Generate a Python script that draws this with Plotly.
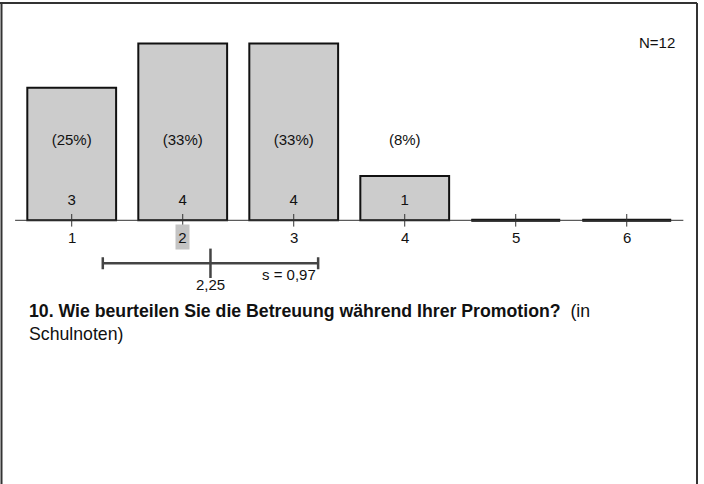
import plotly.graph_objects as go

# school grades 1..6 and how many respondents gave each
grades = [1, 2, 3, 4, 5, 6]
counts = [3, 4, 4, 1, 0, 0]
pct_labels = ["(25%)", "(33%)", "(33%)", "(8%)", "", ""]
n_total = 12
mean_val = 2.25
sd_val = 0.97
highlight_grade = 2
title_main = "10. Wie beurteilen Sie die Betreuung während Ihrer Promotion?"
title_note = "(in<br>Schulnoten)"

FONT = "Liberation Sans, Arial, sans-serif"
BAR_W = 0.8
X_RANGE = [0.354, 6.696]
Y_RANGE = [-5.966, 4.984]
COUNT_Y = 0.437
PCT_Y = 1.794
TICKLABEL_Y = -0.40
SD_Y = -0.973

fig = go.Figure()

# bars with responses
fig.add_trace(go.Bar(
    x=grades, y=counts, width=BAR_W,
    marker=dict(color="#cccccc", line=dict(color="#111111", width=2)),
    hoverinfo="skip",
))

# empty categories are drawn as a flat thick line on the baseline
zx, zy = [], []
for g, c in zip(grades, counts):
    if c == 0:
        zx += [g - BAR_W / 2, g + BAR_W / 2, None]
        zy += [0, 0, None]
fig.add_trace(go.Scatter(x=zx, y=zy, mode="lines",
                         line=dict(color="#111111", width=3), hoverinfo="skip"))

# baseline
fig.add_shape(type="line", x0=0.49, x1=6.51, y0=0, y1=0,
              line=dict(color="#333333", width=1))

# tick marks crossing the baseline
fig.add_trace(go.Scatter(
    x=grades, y=[0] * len(grades), mode="markers",
    marker=dict(symbol="line-ns", size=9, color="#333333",
                line=dict(color="#333333", width=1)),
    hoverinfo="skip",
))

# count and percent labels
nz = [i for i, c in enumerate(counts) if c > 0]
fig.add_trace(go.Scatter(
    x=[grades[i] for i in nz], y=[COUNT_Y] * len(nz), mode="text",
    text=[str(counts[i]) for i in nz],
    textfont=dict(family=FONT, size=15, color="#111111"), hoverinfo="skip",
))
fig.add_trace(go.Scatter(
    x=[grades[i] for i in nz], y=[PCT_Y] * len(nz), mode="text",
    text=[pct_labels[i] for i in nz],
    textfont=dict(family=FONT, size=15, color="#111111"), hoverinfo="skip",
))

# grade labels under the axis
for g in grades:
    ann = dict(x=g, y=TICKLABEL_Y, xref="x", yref="y", text=str(g), showarrow=False,
               font=dict(family=FONT, size=15, color="#111111"))
    if g == highlight_grade:
        ann.update(bgcolor="#c4c4c4", width=13, height=24, borderpad=0, y=TICKLABEL_Y + 0.03)
    fig.add_annotation(**ann)

# mean +/- sd
fig.add_trace(go.Scatter(
    x=[mean_val], y=[SD_Y], mode="markers",
    marker=dict(symbol="line-ns", size=21, color="#444444",
                line=dict(color="#444444", width=2.5)),
    error_x=dict(type="data", array=[sd_val], color="#444444", thickness=2.5, width=6),
    hoverinfo="skip",
))
fig.add_annotation(x=mean_val, y=-1.452, xref="x", yref="y",
                   text=f"{mean_val:.2f}".replace(".", ","), showarrow=False,
                   font=dict(family=FONT, size=15, color="#111111"))
fig.add_annotation(x=mean_val + sd_val, y=-1.215, xref="x", yref="y", xanchor="right",
                   text="s = " + f"{sd_val:.2f}".replace(".", ","), showarrow=False,
                   font=dict(family=FONT, size=15, color="#111111"))

fig.add_annotation(x=677 / 704, y=1 - 32 / 484, xref="paper", yref="paper",
                   xanchor="right", text=f"N={n_total}", showarrow=False,
                   font=dict(family=FONT, size=15, color="#111111"))

fig.add_annotation(x=27 / 704, y=1 - 299 / 484, xref="paper", yref="paper",
                   xanchor="left", yanchor="top", align="left", showarrow=False,
                   text=f"<b>{title_main}</b>\u00a0\u00a0{title_note}",
                   font=dict(family=FONT, size=17.7, color="#111111"))

# frame around the panel
for x0, y0, x1, y1 in [(0, 1 - 3 / 484, 697 / 704, 1 - 3 / 484),
                       (1.5 / 704, 0, 1.5 / 704, 1 - 3 / 484),
                       (697 / 704, 0, 697 / 704, 1 - 3 / 484)]:
    fig.add_shape(type="line", xref="paper", yref="paper", x0=x0, y0=y0, x1=x1, y1=y1,
                  line=dict(color="#333333", width=2))

fig.update_layout(
    template="plotly_white",
    width=704, height=484,
    margin=dict(l=0, r=0, t=0, b=0),
    paper_bgcolor="white", plot_bgcolor="white",
    showlegend=False,
    font=dict(family=FONT, color="#111111"),
)
fig.update_xaxes(range=X_RANGE, visible=False, fixedrange=True)
fig.update_yaxes(range=Y_RANGE, visible=False, fixedrange=True)

fig.write_html("out.html", config={"displayModeBar": False},
               post_script="document.body.style.margin='0';document.body.style.overflow='hidden';")
